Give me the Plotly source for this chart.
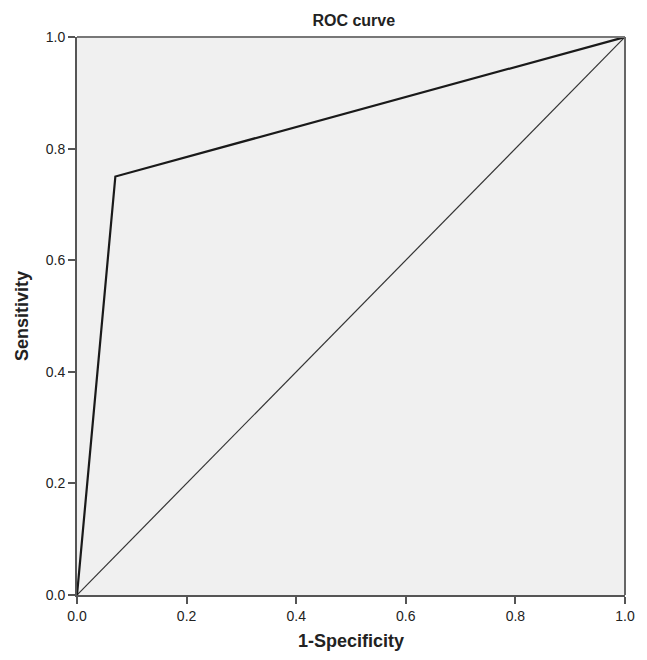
import plotly.graph_objects as go

roc_x = [0.0, 0.07, 1.0]
roc_y = [0.0, 0.75, 1.0]
ref_x = [0.0, 1.0]
ref_y = [0.0, 1.0]
tick_vals = [0.0, 0.2, 0.4, 0.6, 0.8, 1.0]
tick_text = ["0.0", "0.2", "0.4", "0.6", "0.8", "1.0"]

W, H = 647, 660

fig = go.Figure()
fig.add_trace(go.Scatter(x=ref_x, y=ref_y, mode="lines",
                         line=dict(color="#333333", width=1.2), showlegend=False))
fig.add_trace(go.Scatter(x=roc_x, y=roc_y, mode="lines",
                         line=dict(color="#1a1a1a", width=2.2), showlegend=False))

font = dict(family="Liberation Sans, Arial, sans-serif", color="#222222")
fig.update_layout(
    width=W, height=H,
    margin=dict(l=77, r=12, t=37, b=63),
    paper_bgcolor="white", plot_bgcolor="#f0f0f0",
    font=font,
    title=dict(text="<b>ROC curve</b>", x=0.505, xanchor="center", xref="paper",
               y=1 - 20 / H, yanchor="middle", font=dict(size=16)),
    xaxis=dict(range=[0, 1], tickvals=tick_vals, ticktext=tick_text,
               showgrid=False, zeroline=False, showline=True, linecolor="#555555",
               linewidth=2, mirror=False, ticks="outside", ticklen=7, tickwidth=2,
               tickcolor="#555555", tickfont=dict(size=14),
               title=dict(text="<b>1-Specificity</b>", font=dict(size=18), standoff=12)),
    yaxis=dict(range=[0, 1], tickvals=tick_vals, ticktext=tick_text,
               showgrid=False, zeroline=False, showline=True, linecolor="#555555",
               linewidth=2, ticks="outside", ticklen=7, tickwidth=2,
               tickcolor="#555555", tickfont=dict(size=14),
               title=dict(text="<b>Sensitivity</b>", font=dict(size=18), standoff=12)),
    shapes=[
        dict(type="line", xref="paper", yref="paper", x0=0, x1=1, y0=1, y1=1,
             line=dict(color="#777777", width=2)),
        dict(type="line", xref="paper", yref="paper", x0=1, x1=1, y0=0, y1=1,
             line=dict(color="#666666", width=2)),
    ],
)
fig.write_html(
    "out.html",
    config={"displayModeBar": False},
    post_script="document.body.style.margin='0';"
                "document.documentElement.style.overflow='hidden';",
)
